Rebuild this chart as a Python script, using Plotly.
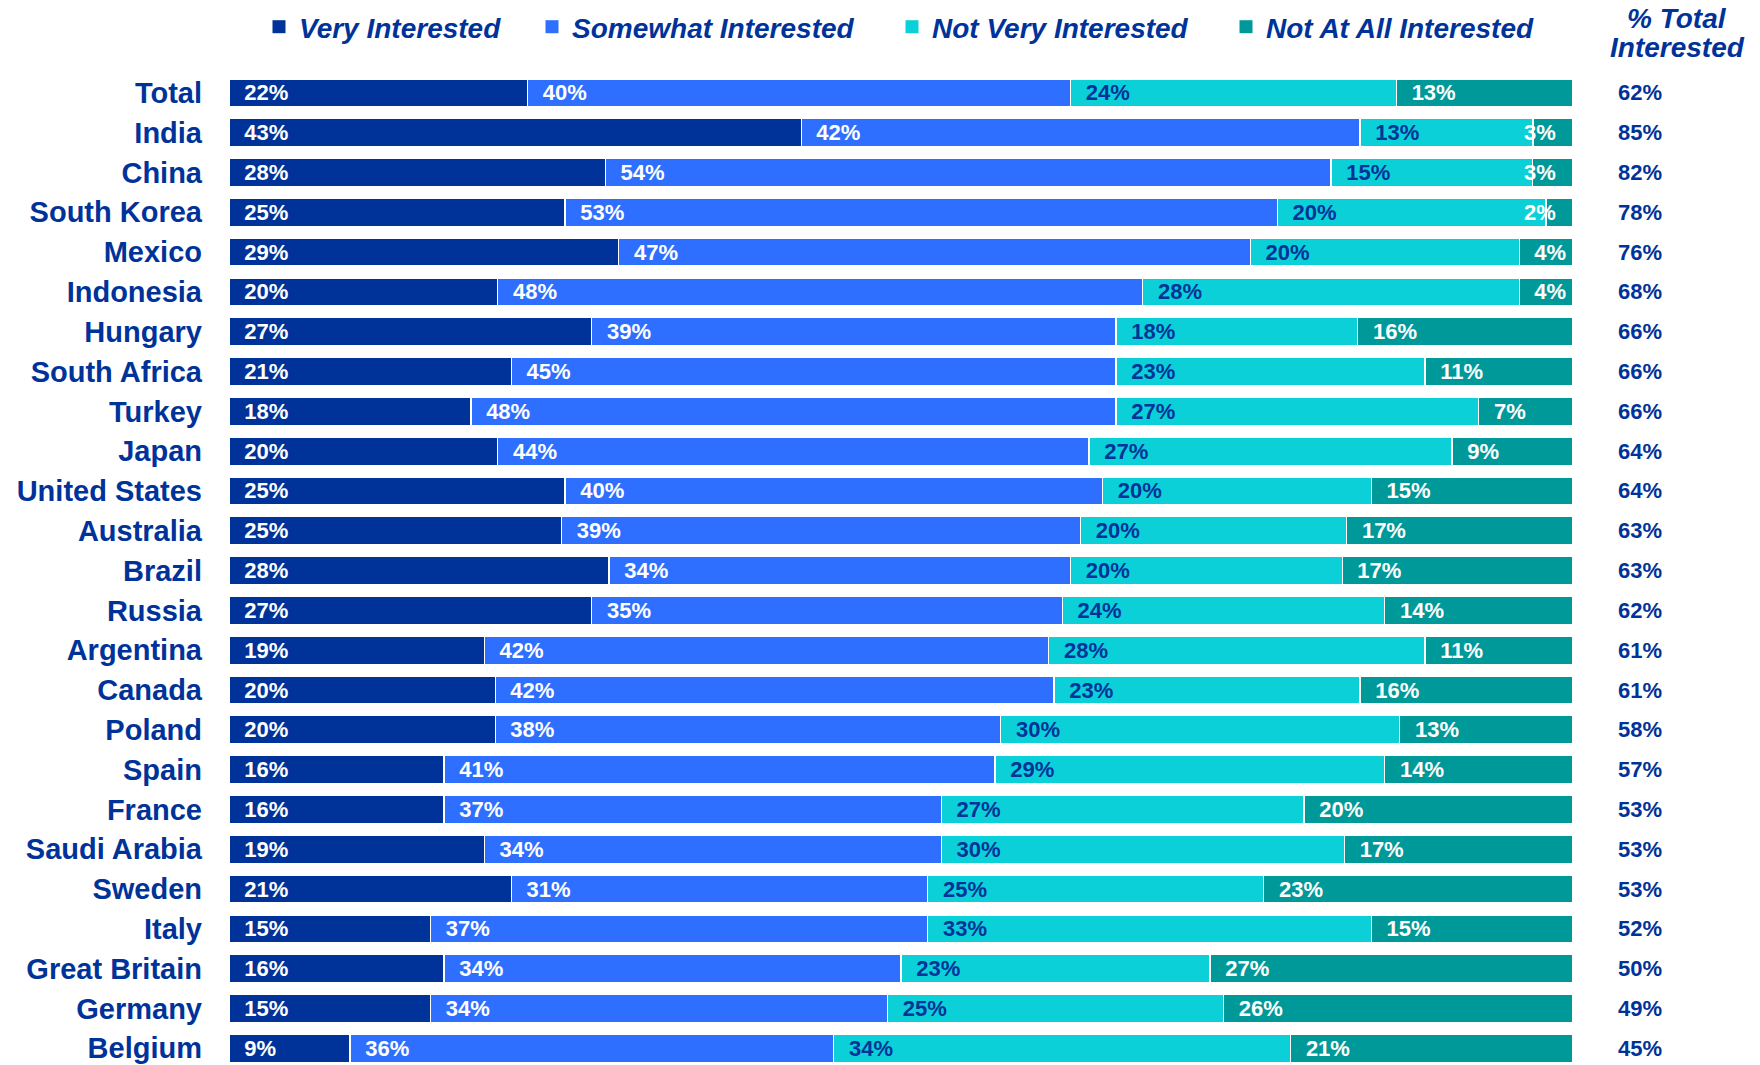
import plotly.graph_objects as go

# Survey results: share of respondents by interest level, per country
countries = [
    "Total", "India", "China", "South Korea", "Mexico", "Indonesia", "Hungary",
    "South Africa", "Turkey", "Japan", "United States", "Australia", "Brazil",
    "Russia", "Argentina", "Canada", "Poland", "Spain", "France", "Saudi Arabia",
    "Sweden", "Italy", "Great Britain", "Germany", "Belgium",
]
very_interested = [22, 43, 28, 25, 29, 20, 27, 21, 18, 20, 25, 25, 28, 27, 19, 20, 20, 16, 16, 19, 21, 15, 16, 15, 9]
somewhat_interested = [40, 42, 54, 53, 47, 48, 39, 45, 48, 44, 40, 39, 34, 35, 42, 42, 38, 41, 37, 34, 31, 37, 34, 34, 36]
not_very_interested = [24, 13, 15, 20, 20, 28, 18, 23, 27, 27, 20, 20, 20, 24, 28, 23, 30, 29, 27, 30, 25, 33, 23, 25, 34]
not_at_all_interested = [13, 3, 3, 2, 4, 4, 16, 11, 7, 9, 15, 17, 17, 14, 11, 16, 13, 14, 20, 17, 23, 15, 27, 26, 21]
total_interested = [62, 85, 82, 78, 76, 68, 66, 66, 66, 64, 64, 63, 63, 62, 61, 61, 58, 57, 53, 53, 53, 52, 50, 49, 45]

series_names = ["Very Interested", "Somewhat Interested", "Not Very Interested", "Not At All Interested"]
header_lines = ["% Total", "Interested"]

# Page geometry
W, H = 1760, 1065
L, R, T, B = 229, 187, 73, 0
PW, PH = W - L - R, H - T - B

NAVY = "#003399"
bar_colors = ["#003399", "#2E6FFF", "#0CD0D8", "#009999"]
text_colors = ["white", "white", NAVY, "white"]
legend_centers = [279, 552, 912, 1246]  # x of each legend swatch

FONT = "Liberation Sans, Arial, sans-serif"
LABEL_SIZE = 22
NBSP = "\u00a0"
MIN_FIT = 3.5  # segments narrower than this (in % of the bar) get an end-aligned label

series = [very_interested, somewhat_interested, not_very_interested, not_at_all_interested]
row_sums = [sum(vals) for vals in zip(*series)]

fig = go.Figure()
annotations = []
cum = [0.0] * len(countries)
for i, (name, vals) in enumerate(zip(series_names, series)):
    legend_key = "legend" if i == 0 else f"legend{i + 1}"
    shares = [v / s * 100 for v, s in zip(vals, row_sums)]
    labels = []
    for j, (v, sh) in enumerate(zip(vals, shares)):
        if sh < MIN_FIT:
            labels.append("")
            # too narrow for the label: place it against the end of the segment
            annotations.append(dict(
                x=cum[j] + sh, xref="x", y=countries[j], yref="y",
                text=f"{v}%", showarrow=False, xanchor="right", yanchor="middle",
                xshift=-15,
                font=dict(family=FONT, size=LABEL_SIZE, color=text_colors[i], weight="bold"),
            ))
        else:
            labels.append(f"{NBSP}{NBSP}{v}%")
        cum[j] += sh
    fig.add_trace(go.Bar(
        y=countries,
        x=vals,
        orientation="h",
        name=name,
        marker=dict(color=bar_colors[i], line=dict(color="white", width=1.2)),
        text=labels,
        textposition="inside",
        insidetextanchor="start",
        textangle=0,
        textfont=dict(family=FONT, size=LABEL_SIZE, color=text_colors[i], weight="bold"),
        cliponaxis=False,
        showlegend=False,
        hoverinfo="skip",
    ))
    # Square swatch for the legend entry
    fig.add_trace(go.Scatter(
        x=[None], y=[None], mode="markers", name=name,
        marker=dict(symbol="square", size=13, color=bar_colors[i], line=dict(width=0)),
        legend=legend_key, showlegend=True, hoverinfo="skip",
    ))

def paper_x(px):
    return (px - L) / PW

def paper_y(py):
    return 1 - (py - T) / PH

# Column of total-interested values on the right
for c, v in zip(countries, total_interested):
    annotations.append(dict(
        x=paper_x(1616), xref="paper", y=c, yref="y",
        text=f"{v}%", showarrow=False, xanchor="left", yanchor="middle",
        font=dict(family=FONT, size=LABEL_SIZE, color=NAVY, weight="bold"),
    ))
# Column header
for line, py in zip(header_lines, [19, 47]):
    annotations.append(dict(
        x=paper_x(1677), xref="paper", y=paper_y(py), yref="paper",
        text=line, showarrow=False, xanchor="center", yanchor="middle",
        font=dict(family=FONT, size=28, color=NAVY, weight="bold", style="italic"),
    ))

legend_style = dict(
    orientation="h", xref="container", yref="container",
    yanchor="middle", xanchor="left", y=1 - 27 / H,
    font=dict(family=FONT, size=28, color=NAVY, weight="bold", style="italic"),
    bgcolor="rgba(0,0,0,0)", borderwidth=0,
)
legends = {}
for i, cx in enumerate(legend_centers):
    key = "legend" if i == 0 else f"legend{i + 1}"
    legends[key] = dict(legend_style, x=(cx - 20) / W)

fig.update_layout(
    width=W, height=H,
    margin=dict(l=L, r=R, t=T, b=B, pad=0),
    paper_bgcolor="white", plot_bgcolor="white",
    barmode="stack", barnorm="percent", bargap=0.3,
    uniformtext=dict(minsize=LABEL_SIZE, mode="show"),
    showlegend=True,
    annotations=annotations,
    xaxis=dict(visible=False, range=[0, 100.01], fixedrange=True),
    yaxis=dict(
        categoryorder="array", categoryarray=countries,
        range=[24.42, -0.5],
        showgrid=False, zeroline=False, showline=False, ticks="",
        ticklabelstandoff=26,
        tickfont=dict(family=FONT, size=29, color=NAVY, weight="bold"),
    ),
    **legends,
)

fig.write_html("out.html")
